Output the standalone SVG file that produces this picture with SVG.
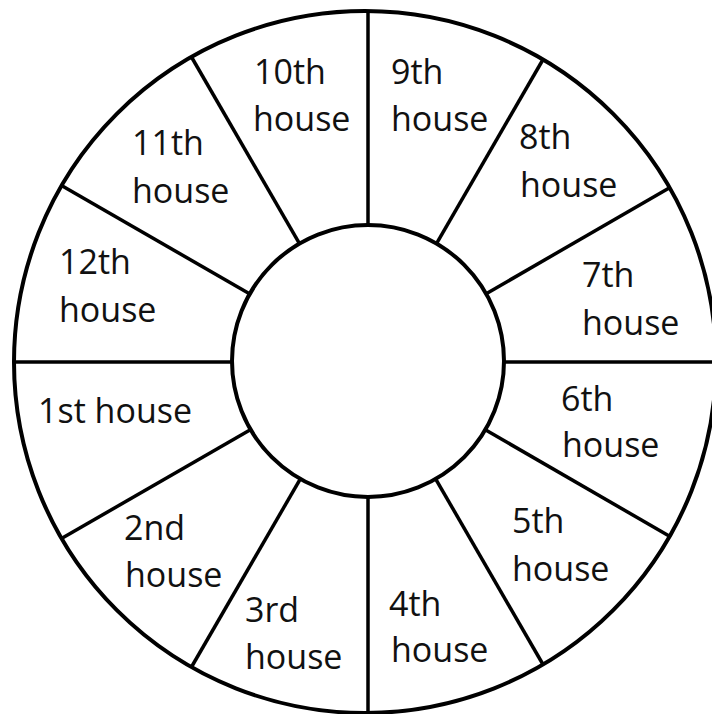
<svg xmlns="http://www.w3.org/2000/svg" width="712" height="714" viewBox="0 0 712 714">
<style>
.ring{fill:#fff;stroke:#000;stroke-width:4}
.spoke{stroke:#000;stroke-width:3.5;stroke-linecap:butt}
text{font-family:"Open Sans","Noto Sans","Liberation Sans",sans-serif;font-size:34px;fill:#111}
</style>
<rect width="712" height="714" fill="#fff"/>
<g id="outer-ring"><circle class="ring" cx="365" cy="362" r="351"/></g>
<g id="connectors">
<line class="spoke" x1="368" y1="12" x2="368" y2="362"/>
<line class="spoke" x1="191.2" y1="56.5" x2="368" y2="362"/>
<line class="spoke" x1="61.5" y1="185.5" x2="368" y2="362"/>
<line class="spoke" x1="14" y1="362" x2="368" y2="362"/>
<line class="spoke" x1="61.5" y1="538.5" x2="368" y2="362"/>
<line class="spoke" x1="191.2" y1="667.5" x2="368" y2="362"/>
<line class="spoke" x1="368" y1="712" x2="368" y2="362"/>
<line class="spoke" x1="543.3" y1="665" x2="368" y2="362"/>
<line class="spoke" x1="670" y1="536.5" x2="368" y2="362"/>
<line class="spoke" x1="712" y1="362" x2="368" y2="362"/>
<line class="spoke" x1="670" y1="187.5" x2="368" y2="362"/>
<line class="spoke" x1="543.3" y1="59" x2="368" y2="362"/>
</g>
<g id="center"><circle class="ring" cx="368" cy="361" r="136"/></g>
<g id="house-10"><text x="254" y="84">10th</text><text x="253" y="131">house</text></g>
<g id="house-9"><text x="391" y="84">9th</text><text x="391" y="131">house</text></g>
<g id="house-11"><text x="132" y="155">11th</text><text x="132" y="203">house</text></g>
<g id="house-8"><text x="519" y="149">8th</text><text x="520" y="197">house</text></g>
<g id="house-12"><text x="59" y="274">12th</text><text x="59" y="322">house</text></g>
<g id="house-7"><text x="582" y="287">7th</text><text x="582" y="335">house</text></g>
<g id="house-1"><text x="38" y="423">1st house</text></g>
<g id="house-6"><text x="561" y="411">6th</text><text x="562" y="457">house</text></g>
<g id="house-2"><text x="124" y="540">2nd</text><text x="125" y="587">house</text></g>
<g id="house-5"><text x="512" y="533">5th</text><text x="512" y="581">house</text></g>
<g id="house-3"><text x="245" y="622">3rd</text><text x="245" y="669">house</text></g>
<g id="house-4"><text x="389" y="616">4th</text><text x="391" y="662">house</text></g>
</svg>
